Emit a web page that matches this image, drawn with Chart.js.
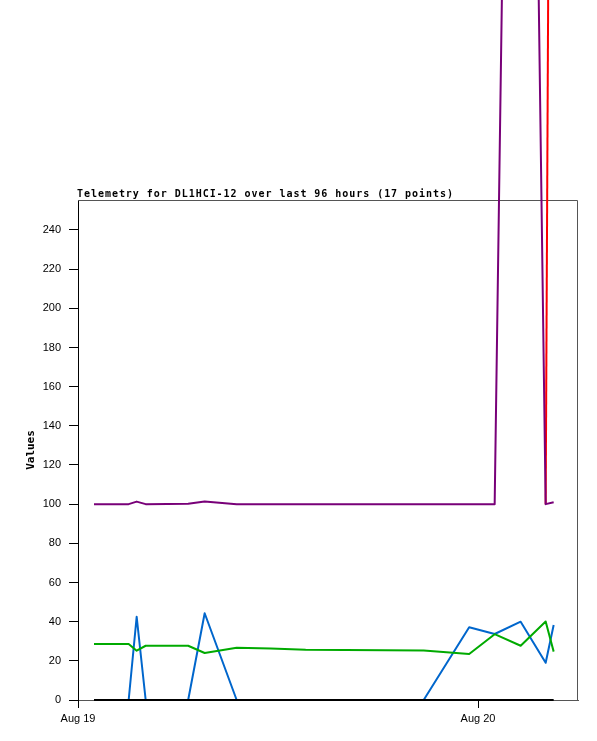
<!DOCTYPE html>
<html><head><meta charset="utf-8">
<script src="https://cdn.jsdelivr.net/npm/chart.js@4.4.0/dist/chart.umd.min.js"></script>
<style>html,body{margin:0;padding:0;background:#fff;} #wrap{width:597px;height:741px;position:relative;}</style>
</head><body><div id="wrap"><canvas id="c"></canvas></div>
<script>
// time of each sample, hours after Aug 19 00:00
const hours = [0.96, 3.04, 3.52, 4.06, 6.61, 7.60, 9.52, 11.56, 13.66, 16.06, 18.46, 20.74, 23.47, 25.0, 26.56, 28.06, 28.54];
const seriesPurple = [100, 100, 101.3, 100, 100.2, 101.4, 100, 100, 100, 100, 100, 100, 100, 100, 1030, 100, 101];
const seriesGreen  = [28.6, 28.6, 25.2, 27.7, 27.7, 24.0, 26.7, 26.3, 25.6, 25.5, 25.4, 25.3, 23.5, 33.6, 27.7, 40.1, 24.7];
const seriesBlue   = [0, 0, 42.5, 0, 0, 44.3, 0, 0, 0, 0, 0, 0, 37.1, 33.7, 40.0, 19.0, 38.3];
const seriesBlack  = [0, 0, 0, 0, 0, 0, 0, 0, 0, 0, 0, 0, 0, 0, 0, 0, 0];
const seriesRed    = [null, null, null, null, null, null, null, null, null, null, null, null, null, null, null, 100, 930];
const xTickValues = [0, 24];
const xTickLabels = ['Aug 19', 'Aug 20'];
const yTickValues = [0, 20, 40, 60, 80, 100, 120, 140, 160, 180, 200, 220, 240];
const titleText = 'Telemetry for DL1HCI-12 over last 96 hours (17 points)';
const yTitle = 'Values';

function pts(arr){ return hours.map((h,i)=>({x:h, y:arr[i]})); }
function ds(arr, color){
  return {data: pts(arr), borderColor: color, backgroundColor: color, borderWidth: 2,
          borderJoinStyle: 'round', pointRadius: 0, tension: 0, clip: false, spanGaps: false, fill: false};
}

const framePlugin = {
  id: 'frame',
  beforeDatasetsDraw(chart){
    const {ctx, chartArea: a} = chart;
    ctx.save();
    ctx.strokeStyle = '#555555';
    ctx.lineWidth = 1;
    ctx.beginPath();
    ctx.moveTo(a.left, a.top + 0.5);
    ctx.lineTo(a.right - 0.5, a.top + 0.5);
    ctx.lineTo(a.right - 0.5, a.bottom);
    ctx.stroke();
    ctx.restore();
  },
  afterDraw(chart){
    const {ctx, chartArea: a} = chart;
    ctx.save();
    ctx.fillStyle = '#000';
    ctx.font = 'bold 10px "DejaVu Sans Mono"';
    try { ctx.letterSpacing = '0.96px'; } catch(e) {}
    ctx.textAlign = 'left';
    ctx.textBaseline = 'alphabetic';
    ctx.fillText(titleText, a.left - 1, a.top - 3);
    ctx.restore();
  }
};

new Chart(document.getElementById('c'), {
  type: 'line',
  data: { datasets: [
    ds(seriesBlack, '#000000'),
    ds(seriesPurple, '#780078'),
    ds(seriesRed, '#ff0000'),
    ds(seriesGreen, '#00aa00'),
    ds(seriesBlue, '#0066cc')
  ]},
  options: {
    responsive: true, maintainAspectRatio: false, animation: false,
    layout: { padding: { top: 200, right: 19, left: 0, bottom: 0 } },
    plugins: { legend: {display: false}, tooltip: {enabled: false}, title: {display: false} },
    scales: {
      x: {
        type: 'linear', min: 0, max: 30,
        afterBuildTicks(s){ s.ticks = xTickValues.map(v => ({value: v})); },
        afterFit(s){ s.height = 41; },
        ticks: { autoSkip: false, maxRotation: 0, padding: 4, color: '#000',
                 font: {family: '"Liberation Sans"', size: 11},
                 callback(v){ const i = xTickValues.indexOf(v); return i >= 0 ? xTickLabels[i] : ''; } },
        grid: { drawOnChartArea: false, drawTicks: true, tickLength: 8, tickColor: '#000', color: '#000' },
        border: { display: true, color: '#555555', width: 1 }
      },
      y: {
        min: 0, max: 255.3,
        afterBuildTicks(s){ s.ticks = yTickValues.map(v => ({value: v})); },
        afterFit(s){ s.width = 78; },
        ticks: { padding: 8, color: '#000', font: {family: '"Liberation Sans"', size: 11} },
        grid: { drawOnChartArea: false, drawTicks: true, tickLength: 9, tickColor: '#000', color: '#000' },
        border: { display: true, color: '#000', width: 1 },
        title: { display: true, text: yTitle, color: '#000',
                 font: {family: '"DejaVu Sans Mono"', size: 11, weight: 'bold'},
                 padding: {top: 24.5, bottom: 0} }
      }
    }
  },
  plugins: [framePlugin]
});
</script>
</body></html>
